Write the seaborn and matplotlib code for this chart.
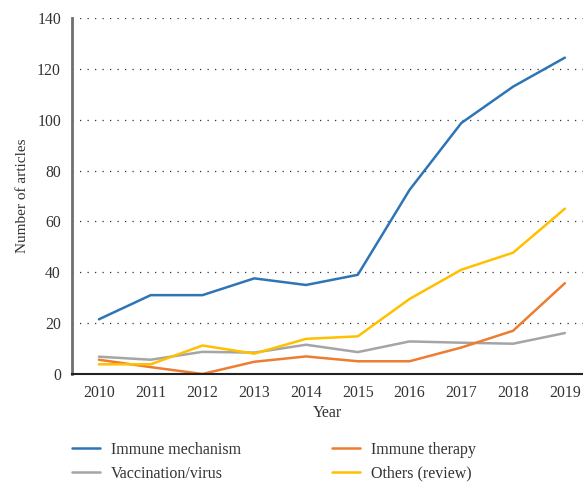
import pandas as pd
import matplotlib.pyplot as plt
import seaborn as sns

# values
years = [2010, 2011, 2012, 2013, 2014, 2015, 2016, 2017, 2018, 2019]
immune_mechanism = [21.5, 31, 31, 37.6, 35, 39, 72.4, 98.7, 113, 124.4]
immune_therapy = [5.6, 2.7, 0, 4.8, 6.9, 5, 5, 10.4, 17, 35.7]
vaccination_virus = [6.8, 5.6, 8.7, 8.4, 11.5, 8.6, 12.8, 12.3, 11.9, 16.1]
others_review = [3.8, 3.8, 11.2, 8, 13.8, 14.8, 29.5, 41, 47.7, 65]

series = {
    "Immune mechanism": immune_mechanism,
    "Vaccination/virus": vaccination_virus,
    "Immune therapy": immune_therapy,
    "Others (review)": others_review,
}
colors = {
    "Immune mechanism": "#2E75B6",
    "Vaccination/virus": "#A5A5A5",
    "Immune therapy": "#ED7D31",
    "Others (review)": "#FFC000",
}

df = pd.concat(
    [pd.DataFrame({"Year": years, "Count": v, "Topic": k}) for k, v in series.items()],
    ignore_index=True,
)

sns.set_style("white")
plt.rcParams["font.family"] = ["Liberation Serif", "DejaVu Serif"]

fig = plt.figure(figsize=(5.83, 4.86), dpi=100)
ax = fig.add_axes([0.1235, 0.2305, 0.8765, 0.7325])

sns.lineplot(data=df, x="Year", y="Count", hue="Topic", palette=colors,
             linewidth=1.8, ax=ax, legend=False)

ax.set_xlim(2009.48, 2019.35)
ax.set_ylim(0, 140)
ax.set_xticks(years)
ax.set_yticks(range(0, 141, 20))
ax.tick_params(axis="both", labelsize=11.3, colors="#333333", length=0, pad=8)
ax.yaxis.grid(True, linestyle=(0, (1, 5)), color="#333333", linewidth=0.9)
ax.set_axisbelow(True)

for s in ["top", "right"]:
    ax.spines[s].set_visible(False)
ax.spines["left"].set_color("#707070")
ax.spines["left"].set_linewidth(2)
ax.spines["bottom"].set_color("#222222")
ax.spines["bottom"].set_linewidth(1.5)

ax.set_xlabel("Year", fontsize=11.5, color="#333333", labelpad=3)
ax.set_ylabel("Number of articles", fontsize=11, color="#333333", labelpad=6)

handles = [plt.Line2D([], [], color=colors[k], linewidth=1.8) for k in series]
fig.legend(handles, list(series.keys()), ncol=2, frameon=False,
           loc="lower left", bbox_to_anchor=(0.118, 0.002),
           fontsize=11.5, handlelength=1.75, handletextpad=0.69,
           columnspacing=5.7, labelspacing=0.5, borderaxespad=0,
           borderpad=0.2, labelcolor="#333333")

fig.savefig("out.png", dpi=100)
